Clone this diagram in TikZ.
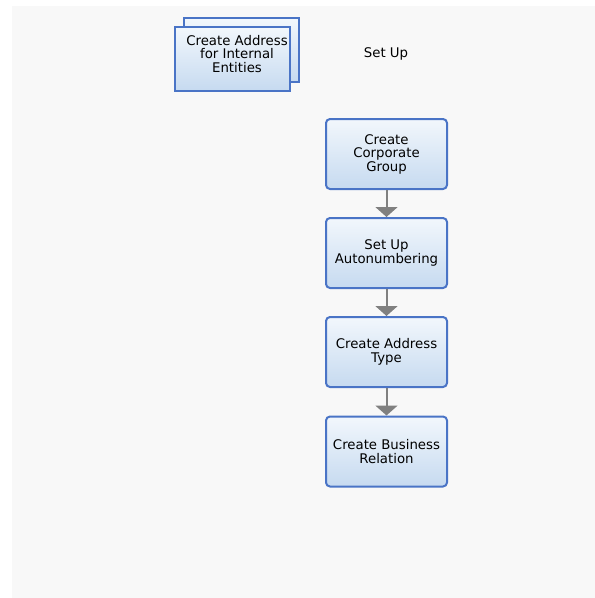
\documentclass[tikz,border=0pt]{standalone}
\usepackage{fontspec}
\setmainfont{DejaVu Sans}
\usepackage{tikz}
\usetikzlibrary{arrows.meta}
\definecolor{boxline}{HTML}{4A74C6}
\definecolor{boxtop}{HTML}{F2F7FC}
\definecolor{boxbot}{HTML}{C6DAF0}
\definecolor{panel}{HTML}{F8F8F8}
\definecolor{flow}{HTML}{808080}
\tikzstyle{task}=[rectangle, rounded corners=4pt, draw=boxline, line width=2pt, top color=boxtop, bottom color=boxbot, minimum width=121pt, minimum height=70pt, inner sep=1pt, align=center, font=\fontsize{13.3}{13.5}\selectfont]
\tikzstyle{sheet}=[rectangle, draw=boxline, line width=2pt, top color=boxtop, bottom color=boxbot, minimum width=115pt, minimum height=64pt, inner sep=0pt]
\tikzstyle{label}=[align=center, font=\fontsize{13.3}{13.5}\selectfont]
\tikzstyle{link}=[draw=flow, line width=2pt, -{Triangle[width=22pt,length=10pt]}]

\begin{document}
\begin{tikzpicture}[x=1pt, y=-1pt]

      \useasboundingbox (0,0) rectangle (595,598);
      \fill[panel] (12,6) rectangle (595,598);

      \node[sheet] (a0) at (241,50) {};
      \node[sheet] (a1) at (232.5,59) {};
      \node[label] (a2) at (237,54) {Create Address\\for Internal\\Entities};
      \node[label] (t1) at (386,54) {Set Up};

      \node[task] (c1) at (386.5,154) {Create\\Corporate\\Group};
      \node[task] (c2) at (386.5,253) {Set Up\\Autonumbering};
      \node[task] (c3) at (386.5,352) {Create Address\\Type};
      \node[task] (c4) at (386.5,451.5) {Create Business\\Relation};

      \draw[link] (c1) -- (c2);
      \draw[link] (c2) -- (c3);
      \draw[link] (c3) -- (c4);

    \end{tikzpicture}
\end{document}
